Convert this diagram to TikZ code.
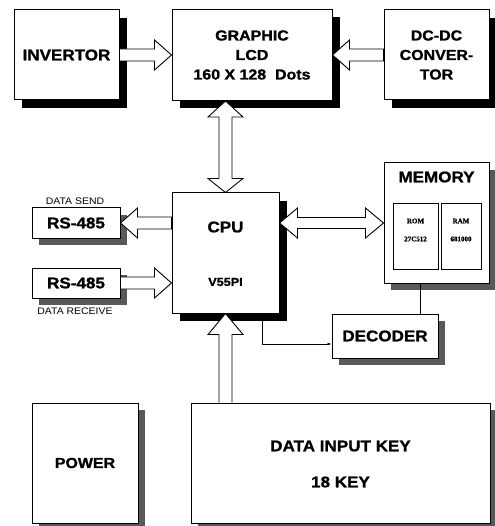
\documentclass[tikz,border=0pt]{standalone}
\usepackage{fontspec}
\setmainfont{Liberation Sans}[FakeStretch=1.1, BoldFeatures={FakeBold=1.2}]
\newfontfamily\tms{Liberation Serif}[BoldFeatures={FakeBold=1}]
\usetikzlibrary{calc,shadows,arrows.meta}
\tikzset{
  box/.style={draw=black, line width=1pt, fill=white, inner sep=0pt, align=center},
  big/.style={font=\bfseries\fontsize{15.5}{19.5}\selectfont},
  mid/.style={font=\bfseries\fontsize{14.5}{19.5}\selectfont},
  lbl/.style={font=\fontsize{9.5}{11}\selectfont, inner sep=0pt},
  tiny/.style={font=\tms\bfseries\fontsize{7}{8}\selectfont, inner sep=0pt},
  txt/.style={inner sep=0pt},
  shblack/.style={drop shadow={shadow xshift=8pt, shadow yshift=-8pt, fill=black, opacity=1}},
  shgray/.style={drop shadow={shadow xshift=7pt, shadow yshift=-7pt, fill=black!65, opacity=1}},
  hollow/.style={draw=black, line width=0.9pt, fill=white, line join=miter},
  wire/.style={draw=black, line width=0.8pt},
}
\newcommand\arrR[2]{\draw[hollow] ($(#1)+(0,-6)$) -- ($(#2)+(-17,-6)$) -- ($(#2)+(-17,-15)$) -- (#2) -- ($(#2)+(-17,15)$) -- ($(#2)+(-17,6)$) -- ($(#1)+(0,6)$) -- cycle;}
\newcommand\arrL[2]{\draw[hollow] ($(#1)+(0,-6)$) -- ($(#2)+(17,-6)$) -- ($(#2)+(17,-15)$) -- (#2) -- ($(#2)+(17,15)$) -- ($(#2)+(17,6)$) -- ($(#1)+(0,6)$) -- cycle;}
\newcommand\arrLR[2]{\draw[hollow] (#1) -- ($(#1)+(18,-15)$) -- ($(#1)+(18,-5.5)$) -- ($(#2)+(-18,-5.5)$) -- ($(#2)+(-18,-15)$) -- (#2) -- ($(#2)+(-18,15)$) -- ($(#2)+(-18,5.5)$) -- ($(#1)+(18,5.5)$) -- ($(#1)+(18,15)$) -- cycle;}
\newcommand\arrUD[2]{\draw[hollow] (#1) -- ($(#1)+(17.5,16)$) -- ($(#1)+(6.5,16)$) -- ($(#2)+(6.5,-14)$) -- ($(#2)+(17.5,-14)$) -- (#2) -- ($(#2)+(-17.5,-14)$) -- ($(#2)+(-6.5,-14)$) -- ($(#1)+(-6.5,16)$) -- ($(#1)+(-17.5,16)$) -- cycle;}
\newcommand\arrU[2]{\draw[hollow] ($(#1)+(-6.5,0)$) -- ($(#2)+(-6.5,21)$) -- ($(#2)+(-17.5,21)$) -- (#2) -- ($(#2)+(17.5,21)$) -- ($(#2)+(6.5,21)$) -- ($(#1)+(6.5,0)$);}
\begin{document}
\begin{tikzpicture}[x=1pt,y=-1pt]
\fill[white] (0,0) rectangle (494,526);
\useasboundingbox (0,0) rectangle (494,526);
% boxes
\node[box, big, shblack, minimum width=105pt, minimum height=90pt] (inv) at (66.5,55) {INVERTOR};
\node[box, mid, shblack, minimum width=160pt, minimum height=91pt] (lcd) at (252,55) {GRAPHIC\\LCD\\160 X 128\ \ Dots};
\node[box, mid, shblack, minimum width=105pt, minimum height=90pt] (dc) at (436.5,55) {DC-DC\\CONVER-\\TOR};
\node[box, shblack, minimum width=107pt, minimum height=120pt] (cpu) at (225.5,253) {};
\node[txt, big] (cput) at (225.5,227) {CPU};
\node[txt, font=\bfseries\fontsize{11.5}{13}\selectfont] (cpuv) at (225.5,282) {V55PI};
\node[box, big, shgray, minimum width=88pt, minimum height=30pt] (rs1) at (76,223) {RS-485};
\node[box, big, shgray, minimum width=88pt, minimum height=30pt] (rs2) at (76,283) {RS-485};
\node[lbl] (ls) at (75,201.5) {DATA SEND};
\node[lbl] (lr) at (75,311) {DATA RECEIVE};
\node[box, shgray, minimum width=105pt, minimum height=120pt] (mem) at (436.5,223) {};
\node[txt, big] (memt) at (436.5,177) {MEMORY};
\node[box, minimum width=45pt, minimum height=65pt] (rom) at (415.5,236.5) {};
\node[box, minimum width=40pt, minimum height=65pt] (ram) at (461,236.5) {};
\node[tiny] (romt) at (415.5,221) {ROM};
\node[tiny] (romn) at (415.5,239) {27C512};
\node[tiny] (ramt) at (461,221) {RAM};
\node[tiny] (ramn) at (461,239) {681000};
\node[box, big, shgray, minimum width=106pt, minimum height=44pt] (dec) at (385,336) {DECODER};
\node[box, mid, shgray, minimum width=106pt, minimum height=120pt] (pow) at (85,463) {POWER};
\node[box, shgray, minimum width=299pt, minimum height=120pt] (key) at (340.5,463) {};
\node[txt, big] (keyt) at (340.5,446) {DATA INPUT KEY};
\node[txt, big] (keyn) at (340.5,482) {18 KEY};
% block arrows
\arrR{inv.east}{lcd.west}
\arrL{dc.west}{lcd.east}
\coordinate (a1) at (cpu.north |- lcd.south);
\arrUD{a1}{cpu.north}
\coordinate (a2) at (cpu.west |- rs1.east);
\arrL{a2}{rs1.east}
\coordinate (a3) at (cpu.west |- rs2.east);
\arrR{rs2.east}{a3}
\coordinate (a4) at (mem.west |- 0,223);
\coordinate (a5) at (cpu.east |- 0,223);
\arrLR{a5}{a4}
\coordinate (a6) at (cpu.south |- key.north);
\arrU{a6}{cpu.south}
% thin connectors
\coordinate (c1) at ([xshift=36.5pt]cpu.south);
\coordinate (c2) at ($(dec.west)+(0,8)$);
\draw[wire, -{Latex[length=4pt,width=3pt]}] (c1) |- (c2);
\coordinate (c3) at ([xshift=-16.5pt]mem.south);
\draw[wire] (c3) -- (c3 |- dec.north);
\end{tikzpicture}
\end{document}
